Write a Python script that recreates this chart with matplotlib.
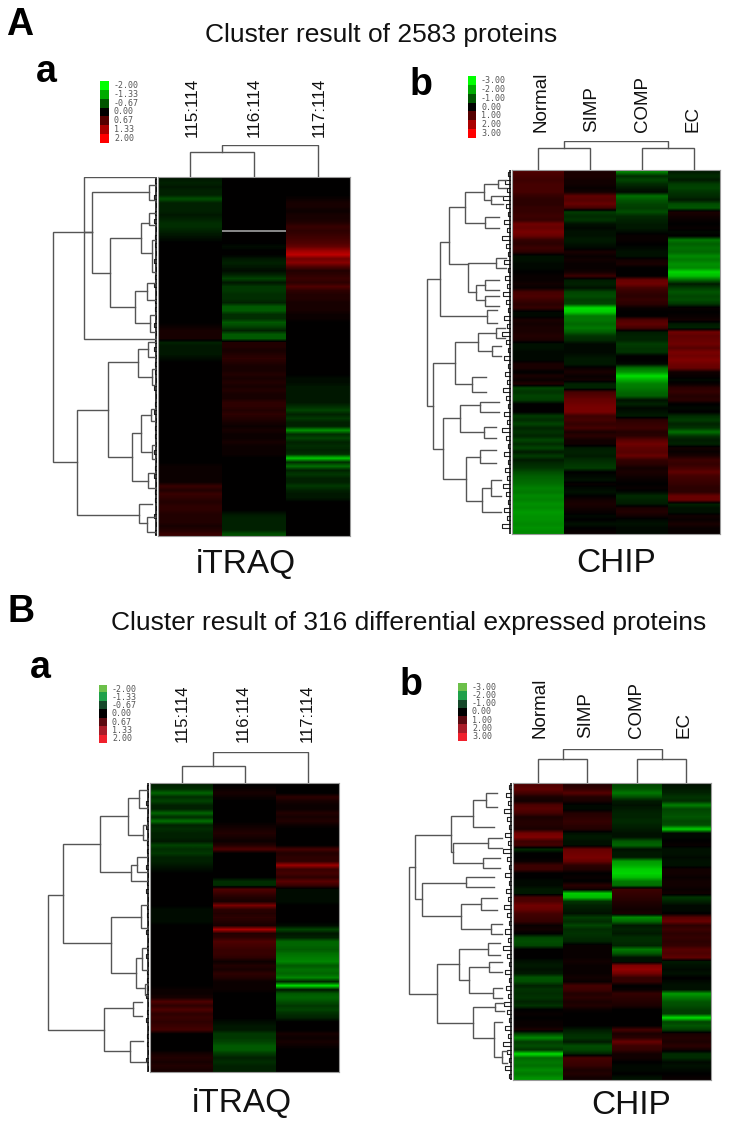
import numpy as np
import matplotlib
matplotlib.use("Agg")
import matplotlib.pyplot as plt
from matplotlib.colors import LinearSegmentedColormap, ListedColormap

W, H = 730, 1121
plt.rcParams['font.family'] = ['Liberation Sans', 'DejaVu Sans']

# heatmap values, tenths of a unit, one entry per horizontal band
aa_115 = [-2,-3,-2,-3,-3,-7,-3,-3,-3,-2,
          -3,-4,-4,-3,-2,-1,0,0,0,0,
          0,0,0,0,0,0,0,0,0,0,
          0,0,0,0,0,0,0,1,2,2,
          2,-3,-2,-2,-2,-1,0,0,0,0,
          0,0,0,0,0,0,0,0,0,0,
          0,0,0,0,0,0,0,0,0,0,
          0,0,1,1,1,1,1,5,3,5,
          4,3,4,4,3,3,3,2,3,5]
aa_116 = [0,0,0,0,0,0,0,0,0,0,
          0,0,0,0,0,0,0,-1,0,0,
          -2,-3,-2,-1,-3,-6,-2,-5,-5,-4,
          -4,-3,-8,-8,-4,-4,-8,-6,-3,-8,
          -8,3,3,2,3,4,3,2,2,3,
          2,3,2,3,2,2,4,4,3,4,
          3,2,1,2,1,1,2,1,1,1,
          0,0,0,0,0,0,0,0,0,0,
          0,0,0,0,-2,-3,-3,-3,-3,-7]
aa_117 = [0,0,0,0,0,1,2,2,1,2,
          2,3,5,4,5,6,7,9,14,17,
          10,12,7,3,4,5,4,7,4,3,
          3,2,2,2,1,1,0,0,0,0,
          0,0,0,0,0,0,0,0,0,0,
          -1,-1,-2,-2,-2,-2,-2,-4,-6,-3,
          -5,-3,-3,-13,-4,-6,-3,-4,-3,-4,
          -18,-4,-10,-3,-5,-3,-3,-5,-3,-2,
          -2,0,0,0,0,0,0,0,0,0]

ab_normal = [9,8,7,8,8,8,6,5,5,6,
             6,7,6,13,12,14,12,6,5,7,
             5,-2,-2,-1,-1,0,1,1,2,1,
             8,9,7,5,6,-1,-1,3,2,3,
             3,4,3,-2,-2,-1,-1,-1,3,3,
             0,3,1,4,-8,-6,-8,-7,0,0,
             0,-7,-5,-8,-4,-6,-4,-8,-5,-8,
             -3,-7,-3,-5,-6,-9,-11,-12,-13,-15,
             -14,-16,-15,-17,-16,-18,-17,-17,-16,-17,-16]
ab_simp = [3,3,2,2,1,2,11,10,12,8,
           -7,-5,-6,-2,-1,-2,-2,-3,-2,-1,
           3,1,2,1,1,2,7,-3,-4,-2,
           -8,-9,-7,-8,-26,-24,-14,-14,-12,-14,
           -11,-6,-5,-1,-1,-1,-2,-3,-3,1,
           3,1,2,-4,-4,8,10,12,13,14,
           14,7,8,6,8,3,5,2,2,-3,
           -4,-3,-5,-6,-7,0,-1,-2,1,-1,
           -2,0,2,3,2,1,-1,0,-2,0,1]
ab_comp = [-15,-5,-8,-5,-3,-1,-13,-10,-8,-7,
           -9,-5,-4,-3,-3,-1,1,1,0,-1,
           -2,-2,2,3,0,0,0,12,13,8,
           6,5,6,5,1,0,0,9,11,8,
           -3,-4,-4,-7,-6,-6,0,0,-1,-13,
           -17,-26,-20,-15,-14,-12,-11,-2,-4,-1,
           -2,-3,5,6,7,4,5,10,13,11,
           10,12,6,5,2,3,2,1,0,1,
           -1,-5,-4,-3,3,4,2,-1,-2,-1,-1]
ab_ec = [-3,-5,-3,-7,-8,-6,-5,-3,-9,-10,
         3,2,1,0,1,-1,0,-14,-11,-13,
         -12,-16,-14,-17,-16,-25,-22,-12,-3,-7,
         -10,-8,-9,-6,1,0,1,2,-3,-4,
         13,11,12,13,10,14,13,15,13,12,
         2,1,-1,1,5,6,4,5,0,-1,
         0,-5,-7,-4,-6,-13,-6,-3,-4,2,
         1,3,7,6,8,11,8,7,6,5,
         5,12,12,-4,-2,-2,2,1,3,1,1]

ba_115 = [-3,-4,-9,-4,-6,-3,-3,-9,-4,-10,
          -3,-4,-3,-3,-2,-6,-4,-5,-3,-3,
          -2,-1,0,0,0,0,0,0,0,0,
          0,-1,-1,-1,-1,0,0,0,0,0,
          0,0,0,0,0,0,0,0,0,0,
          0,1,1,2,7,4,7,4,5,4,
          5,6,0,0,0,0,0,2,3,2,
          3,2]
ba_116 = [0,1,2,1,0,0,0,0,0,0,
          1,2,3,2,1,3,7,0,0,0,
          0,0,0,0,-4,-4,7,5,3,2,
          11,4,3,4,3,2,15,3,4,7,
          6,5,5,4,1,3,2,4,3,1,
          1,1,0,0,0,0,0,0,0,-1,
          -2,-2,-5,-5,-6,-8,-8,-5,-3,-4,
          -3,-3]
ba_117 = [0,0,0,4,2,1,1,3,2,3,
          1,0,0,0,0,0,6,3,4,4,
          14,5,6,4,8,5,-1,-1,-1,-1,
          0,0,0,0,0,-1,-6,-2,-3,-9,
          -9,-8,-10,-11,-12,-8,-10,-9,-12,-3,
          -20,-2,-8,-9,-7,-5,-6,-4,-3,0,
          0,0,2,1,2,1,0,0,0,0,
          0,0]

bb_normal = [9,11,8,3,2,9,10,8,3,4,
             4,3,13,15,7,8,-5,0,0,1,
             7,7,0,0,-1,-1,-3,-3,8,9,
             13,12,8,7,6,1,2,0,-8,-9,
             -8,0,0,0,-2,-3,-2,-3,-10,-9,
             -4,-6,-5,-6,-4,-6,0,1,0,1,
             1,3,-8,-16,-7,-9,-6,-26,-12,-14,
             -13,-16,-14,-17]
bb_simp = [4,6,10,4,3,-1,-1,4,5,6,
           5,4,-2,-3,-2,-2,12,13,14,12,
           5,4,0,1,0,5,2,-24,-22,-6,
           -4,-3,-2,-7,-5,-8,-5,-6,-5,-4,
           1,1,1,1,2,1,1,1,2,1,
           8,7,4,5,3,4,1,0,0,0,
           0,-3,-5,-6,-3,-9,-8,-4,8,7,
           6,3,4,2]
bb_comp = [-8,-10,-14,-9,-3,-2,-3,-4,-4,-5,
           -4,-3,-2,-2,-10,-12,-2,-3,-3,-18,
           -20,-24,-25,-22,-14,-13,7,6,5,4,
           3,2,3,-16,-12,-3,-4,-3,-5,-5,
           -4,-14,-10,-2,-2,15,17,13,6,6,
           0,1,6,5,4,3,0,0,0,0,
           0,8,3,5,12,7,6,2,2,0,
           -1,-1,0,-2]
bb_ec = [-2,-3,-4,-6,-5,-15,-8,-9,-10,-8,
         -9,-24,-1,-1,0,1,-2,-2,-1,-2,
         -2,2,2,1,2,2,1,2,-6,-4,
         -1,-1,0,10,12,5,7,5,6,5,
         6,10,9,11,-3,-2,-1,-2,0,-1,
         -2,-2,-18,-14,-10,-9,-7,-7,-26,-8,
         -10,-7,3,4,3,5,2,-5,-5,-1,
         -2,-1,0,1]

itraq_cols = ['115:114', '116:114', '117:114']
chip_cols = ['Normal', 'SIMP', 'COMP', 'EC']
itraq_levels = ['-2.00', '-1.33', '-0.67', '0.00', '0.67', '1.33', '2.00']
chip_levels = ['-3.00', '-2.00', '-1.00', '0.00', '1.00', '2.00', '3.00']
muted_legend = ['#6cc04a', '#1fa04a', '#16482a', '#000000', '#5a0a10', '#a81c28', '#f0202c']

# dendrogram merges: height, position of child 1, its height, position of child 2, its height
tree_aa = [(104,55,73,285,80),(73,0,0,162,0),(73,55,65,55,65),(65,15,8,96,47),(47,61,16,130,22),
           (16,46,8,76,5),(22,114,10,146,7),(10,106,2,123,2),(7,138,2,155,2),(8,8,2,23,2),(8,36,2,48,2),
           (5,63,2,95,2),(80,233,49,338,18),(49,185,19,280,25),(19,172,9,200,5),(25,256,16,304,9),
           (16,238,6,275,5),(9,296,2,311,2),(18,327,5,346,10),(10,340,2,355,2),(6,232,2,244,2),
           (5,268,2,282,2),(5,192,2,208,2),(9,165,2,180,2)]
tree_ab = [(84,109,71,236,78),(71,72,62,146,24),(62,37,46,94,43),(46,22,27,53,26),(27,14,13,30,20),
           (26,47,12,58,12),(43,93,15,122,35),(35,115,26,130,26),(24,140,14,153,14),(78,193,56,279,68),
           (56,172,33,214,39),(33,163,15,181,19),(39,207,25,222,25),(68,248,51,309,45),(51,235,31,262,27),
           (31,232,12,242,12),(27,257,15,268,15),(45,287,31,331,29),(31,280,15,293,15),(29,318,20,342,10),
           (20,310,10,326,10),(13,10,5,18,5),(20,26,8,34,8),(15,88,5,98,5),(26,110,12,120,12),(26,126,12,136,12),
           (19,176,10,186,10),(15,158,6,168,6)]
tree_ba = [(101,112,86,247,45),(86,61,49,160,38),(49,33,21,89,18),(21,15,10,52,6),(10,7,2,25,2),(6,42,2,57,2),
           (18,82,12,98,2),(12,74,2,89,2),(38,134,8,190,13),(8,122,2,145,2),(13,175,7,205,4),(7,165,2,187,2),
           (4,201,2,212,2),(45,225,16,268,19),(16,219,7,233,7),(19,258,6,279,3)]
tree_bb = [(103,84,97,211,75),(97,52,61,116,90),(61,33,39,69,59),(59,60,24,80,29),(39,17,26,44,18),
           (90,100,46,133,51),(46,94,18,104,18),(51,121,31,146,21),(75,181,53,240,39),(53,166,24,197,43),
           (43,184,23,210,19),(39,224,17,255,18),(18,239,10,274,10),(26,10,15,24,15),(24,55,10,65,10),
           (29,75,12,85,12),(31,115,15,127,15),(21,141,10,151,10),(24,160,12,172,12),(23,179,10,189,10),
           (19,205,10,215,10),(17,220,8,228,8),(10,268,5,280,5)]
cols_aa = [(25,0,0,1,0),(32,0.5,25,2,0)]
cols_ab = [(22,0,0,1,0),(22,2,0,3,0),(29,0.5,22,2.5,22)]
cols_ba = [(17,0,0,1,0),(31,0.5,17,2,0)]
cols_bb = [(24,0,0,1,0),(24,2,0,3,0),(34,0.5,24,2.5,24)]
leaf_short = [2,1,3,1,2,3,1,2]
leaf_long = [3,6,4,8,5,3,7,4,9,5,3,7]

heat = LinearSegmentedColormap.from_list('gbr', ['#00ff00', '#000000', '#ff0000'], N=256)
LINE = '#555555'


def px_axes(fig, x0, y0, x1, y1):
    ax = fig.add_axes([x0 / W, 1 - y1 / H, (x1 - x0) / W, (y1 - y0) / H])
    ax.axis('off')
    return ax


def px_text(fig, x, y, s, **kw):
    kw.setdefault('va', 'baseline')
    return fig.text(x / W, 1 - y / H, s, **kw)


def panel(fig, columns, limit, gain, box, tree, col_tree, col_h, leaves, names, name_y, name_x, name_size,
          legend_box, levels, legend_cmap=None):
    x0, y0, x1, y1 = box
    data = np.array(columns, dtype=float).T / 10
    rows, n = data.shape
    ax = fig.add_axes([x0 / W, 1 - y1 / H, (x1 - x0) / W, (y1 - y0) / H])
    # one image per column so the stripes soften vertically but columns keep hard edges
    for j in range(n):
        ax.imshow(data[:, [j]], cmap=heat, vmin=-limit * gain, vmax=limit * gain, aspect='auto',
                  interpolation='bilinear', extent=(j - 0.5, j + 0.5, rows - 0.5, -0.5))
    ax.set_xlim(-0.5, n - 0.5)
    ax.set_ylim(rows - 0.5, -0.5)
    ax.set_xticks([])
    ax.set_yticks([])
    for s in ax.spines.values():
        s.set_color('#9a9a9a')
        s.set_linewidth(0.8)

    # row dendrogram, leaves first
    depth = x0 - 40
    rd = px_axes(fig, x0 - depth - 1, y0, x0 - 1, y1)
    rd.set_xlim(depth, 0)
    rd.set_ylim(y1 - y0, 0)
    band = (y1 - y0) / rows
    for i in range(0, rows - 1, 2):
        h = leaves[(i // 2) % len(leaves)]
        a, b = (i + 0.5) * band, (i + 1.5) * band
        rd.plot([0, h, h, 0], [a, a, b, b], color='#222222', lw=0.8)
    rd.plot([1, 1], [0, y1 - y0], color='#111111', lw=1.2)
    for h, y1c, h1, y2c, h2 in tree:
        rd.plot([h1, h, h, h2], [y1c, y1c, y2c, y2c], color=LINE, lw=1.0, solid_joinstyle='miter')

    # column dendrogram
    cd = px_axes(fig, x0, y0 - col_h, x1, y0)
    cd.set_xlim(-0.5, n - 0.5)
    cd.set_ylim(0, col_h)
    for h, c1, h1, c2, h2 in col_tree:
        cd.plot([c1, c1, c2, c2], [h1, h, h, h2], color=LINE, lw=1.0, solid_joinstyle='miter')

    for label, nx in zip(names, name_x):
        px_text(fig, nx, name_y, label, rotation=90, ha='center', va='bottom', fontsize=name_size, color='#111111')

    # colour key
    lx0, ly0, lx1, ly1 = legend_box
    lax = px_axes(fig, lx0, ly0, lx1, ly1)
    steps = np.array([float(v) for v in levels]).reshape(-1, 1)
    if legend_cmap is None:
        lax.imshow(steps, cmap=heat, vmin=-limit, vmax=limit, aspect='auto', interpolation='nearest')
    else:
        lax.imshow(np.arange(len(levels)).reshape(-1, 1), cmap=ListedColormap(legend_cmap), aspect='auto',
                   interpolation='nearest')
    step = (ly1 - ly0) / len(levels)
    for i, lv in enumerate(levels):
        px_text(fig, lx1 + 5, ly0 + (i + 0.5) * step, lv, ha='left', va='center', fontsize=6,
                family='DejaVu Sans Mono', color='#555555')


fig = plt.figure(figsize=(W / 100, H / 100), dpi=100, facecolor='white')

panel(fig, [aa_115, aa_116, aa_117], 2, 1.15, (158, 177, 350, 536), tree_aa, cols_aa, 32, leaf_short,
      itraq_cols, 137, [192, 254, 319], 12.3, (100, 81, 109, 143), itraq_levels)
# grey line in the 116:114 column, missing value
fig.axes[0].hlines(13, 0.5, 1.5, color='#8a8a8a', lw=1.4)

panel(fig, [ab_normal, ab_simp, ab_comp, ab_ec], 3, 1.0, (512, 170, 720, 534), tree_ab, cols_ab, 29, leaf_long,
      chip_cols, 132, [541, 592, 642, 693], 13.5, (468, 76, 476, 138), chip_levels)

panel(fig, [ba_115, ba_116, ba_117], 2, 1.15, (150, 783, 339, 1072), tree_ba, cols_ba, 31, leaf_short,
      itraq_cols, 742, [182, 243, 307], 12, (99, 685, 107, 743), itraq_levels, muted_legend)

panel(fig, [bb_normal, bb_simp, bb_comp, bb_ec], 3, 1.0, (513, 783, 711, 1080), tree_bb, cols_bb, 34, leaf_long,
      chip_cols, 738, [540, 586, 636, 684], 13.5, (458, 683, 467, 741), chip_levels, muted_legend)

# panel letters
for x, y, s in [(6, 35, 'A'), (7, 622, 'B'), (36, 82, 'a'), (410, 95, 'b'), (30, 678, 'a'), (400, 695, 'b')]:
    px_text(fig, x, y, s, fontsize=27, fontweight='bold', color='black')

px_text(fig, 381, 42, 'Cluster result of 2583 proteins', ha='center', fontsize=19, color='#111111')
px_text(fig, 409, 630, 'Cluster result of 316 differential expressed proteins', ha='center', fontsize=19, color='#111111')
px_text(fig, 246, 573, 'iTRAQ', ha='center', fontsize=24, color='#111111')
px_text(fig, 616, 572, 'CHIP', ha='center', fontsize=24, color='#111111')
px_text(fig, 242, 1112, 'iTRAQ', ha='center', fontsize=24, color='#111111')
px_text(fig, 631, 1114, 'CHIP', ha='center', fontsize=24, color='#111111')

fig.savefig('out.png', dpi=100, facecolor='white')
